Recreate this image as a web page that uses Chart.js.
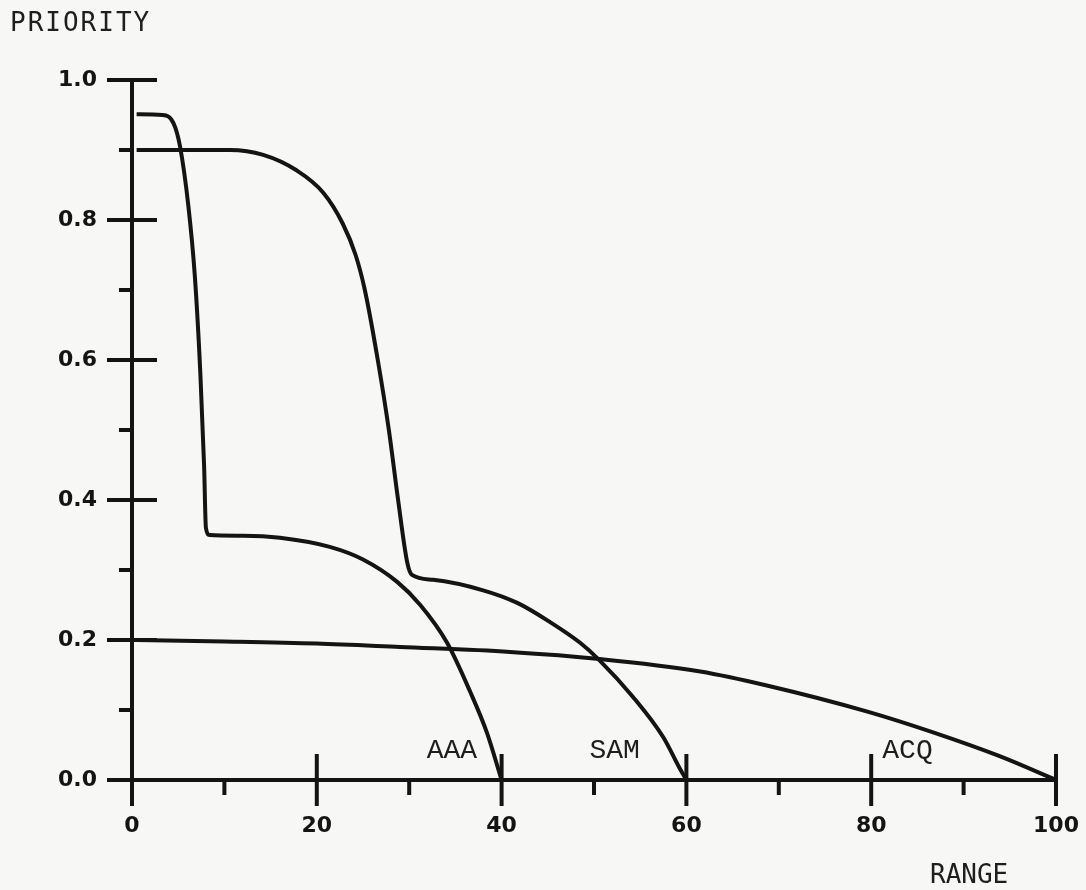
<!DOCTYPE html>
<html>
<head>
<meta charset="utf-8">
<script src="https://cdn.jsdelivr.net/npm/chart.js@4.4.0/dist/chart.umd.min.js"></script>
<style>
  html, body { margin: 0; padding: 0; background: #f7f7f5; }
  #wrap { width: 1086px; height: 890px; position: relative; }
</style>
</head>
<body>
<div id="wrap"><canvas id="priorityChart"></canvas></div>
<script>
// values (range, priority)
const aaaRange = [0.5, 3.3, 4.5, 5.2, 6.1, 6.8, 7.4, 7.8, 8.0, 8.4, 12, 16, 21.4, 25, 28.7, 31.2, 34.1, 36.6, 38.4, 40];
const aaaPriority = [0.951, 0.95, 0.938, 0.905, 0.82, 0.72, 0.58, 0.45, 0.36, 0.35, 0.349, 0.346, 0.333, 0.315, 0.283, 0.25, 0.196, 0.126, 0.068, 0];

const samRange = [0.5, 10.6, 14.2, 17.8, 20.7, 22.8, 24.2, 25.2, 26.6, 27.8, 28.8, 29.8, 30.3, 32.6, 38, 41.7, 45.2, 48.5, 50.6, 54.2, 57.5, 59.3, 60];
const samPriority = [0.9, 0.9, 0.893, 0.871, 0.839, 0.795, 0.75, 0.7, 0.6, 0.5, 0.4, 0.31, 0.293, 0.286, 0.271, 0.253, 0.226, 0.196, 0.171, 0.119, 0.061, 0.016, 0];

const acqRange = [0.5, 10, 20, 29, 40.9, 50.6, 61.5, 68.7, 79.5, 86.7, 93.9, 100];
const acqPriority = [0.2, 0.198, 0.195, 0.19, 0.183, 0.173, 0.155, 0.135, 0.098, 0.068, 0.034, 0];

const curveNames = ['AAA', 'SAM', 'ACQ'];
const xTicks = [0, 20, 40, 60, 80, 100];
const yTicks = [0, 0.2, 0.4, 0.6, 0.8, 1.0];

const ink = '#141414';

function toPoints(xs, ys) {
    return xs.map((x, i) => ({ x: x, y: ys[i] }));
}

// plotter style axes, minor ticks and text
const plotterPlugin = {
    id: 'plotter',
    beforeDraw(chart) {
        const ctx = chart.ctx;
        ctx.save();
        ctx.fillStyle = '#f7f7f5';
        ctx.fillRect(0, 0, chart.width, chart.height);
        ctx.restore();
    },
    afterDatasetsDraw(chart) {
        const { ctx, scales: { x, y } } = chart;
        const x0 = x.getPixelForValue(0);
        const y0 = y.getPixelForValue(0);

        ctx.save();
        ctx.strokeStyle = ink;
        ctx.lineWidth = 4;
        ctx.beginPath();
        ctx.moveTo(x0, y.getPixelForValue(1));
        ctx.lineTo(x0, y0);
        ctx.moveTo(x0, y0);
        ctx.lineTo(x.getPixelForValue(100), y0);

        for (let i = 0; i <= 10; i++) {
            const py = y.getPixelForValue(i / 10);
            if (i % 2 === 0) {
                ctx.moveTo(x0 - 25, py);
                ctx.lineTo(x0 + 25, py);
            } else {
                ctx.moveTo(x0 - 13, py);
                ctx.lineTo(x0, py);
            }
        }
        for (let i = 0; i <= 10; i++) {
            const px = x.getPixelForValue(i * 10);
            if (i % 2 === 0) {
                ctx.moveTo(px, y0 - 26);
                ctx.lineTo(px, y0 + 26);
            } else {
                ctx.moveTo(px, y0);
                ctx.lineTo(px, y0 + 15);
            }
        }
        ctx.stroke();

        // axis names
        ctx.fillStyle = '#1e1e1e';
        ctx.textBaseline = 'alphabetic';
        ctx.textAlign = 'left';
        ctx.font = '26px "DejaVu Sans Mono"';
        ctx.letterSpacing = '2px';
        ctx.fillText('PRIORITY', 10, 31);
        ctx.letterSpacing = '0px';
        ctx.fillText('RANGE', 930, 883);

        // curve names sit just above the axis
        ctx.font = '28px "Liberation Mono"';
        const labelAt = [31.9, 49.5, 81.2];
        curveNames.forEach((name, i) => {
            ctx.fillText(name, x.getPixelForValue(labelAt[i]), y.getPixelForValue(0.031));
        });
        ctx.restore();
    }
};

const lineStyle = {
    borderColor: ink,
    borderWidth: 4,
    pointRadius: 0,
    cubicInterpolationMode: 'monotone',
    fill: false,
    clip: false
};

const tickFont = { family: '"DejaVu Sans"', size: 22, weight: 'bold' };

const ctxPriority = document.getElementById('priorityChart').getContext('2d');
new Chart(ctxPriority, {
    type: 'line',
    data: {
        datasets: [
            Object.assign({ label: curveNames[0], data: toPoints(aaaRange, aaaPriority) }, lineStyle),
            Object.assign({ label: curveNames[1], data: toPoints(samRange, samPriority) }, lineStyle),
            Object.assign({ label: curveNames[2], data: toPoints(acqRange, acqPriority) }, lineStyle)
        ]
    },
    options: {
        responsive: true,
        maintainAspectRatio: false,
        animation: false,
        events: [],
        layout: { padding: { left: 0, top: 80, right: 30, bottom: 0 } },
        plugins: {
            legend: { display: false },
            tooltip: { enabled: false }
        },
        scales: {
            x: {
                type: 'linear',
                min: 0,
                max: 100,
                grid: { display: false, drawTicks: false },
                border: { display: false },
                afterBuildTicks: s => { s.ticks = xTicks.map(v => ({ value: v })); },
                afterFit: s => { s.height = 110; s.paddingLeft = 0; s.paddingRight = 0; },
                ticks: { font: tickFont, color: ink, padding: 33, maxRotation: 0, autoSkip: false }
            },
            y: {
                type: 'linear',
                min: 0,
                max: 1,
                grid: { display: false, drawTicks: false },
                border: { display: false },
                afterBuildTicks: s => { s.ticks = yTicks.map(v => ({ value: v })); },
                afterFit: s => { s.width = 132; s.paddingTop = 0; s.paddingBottom = 0; },
                ticks: {
                    font: tickFont,
                    color: ink,
                    padding: 35,
                    callback: v => v.toFixed(1)
                }
            }
        }
    },
    plugins: [plotterPlugin]
});
</script>
</body>
</html>
